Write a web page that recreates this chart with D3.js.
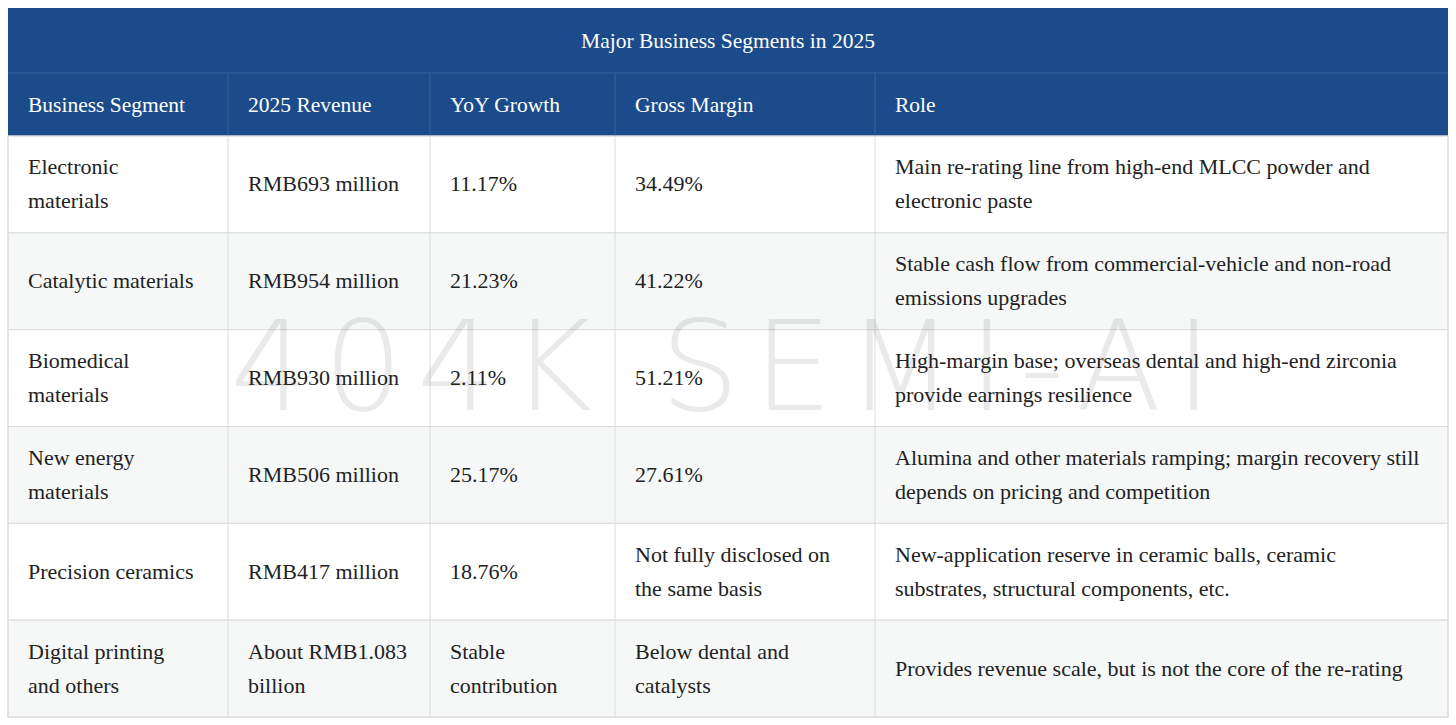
<!DOCTYPE html>
<html><head><meta charset="utf-8">
<script src="https://cdn.jsdelivr.net/npm/d3@7"></script>
<style>body{margin:0;background:#fff}</style>
</head><body><div id="chart"></div>
<script>
var title = "Major Business Segments in 2025"
var headers = ["Business Segment", "2025 Revenue", "YoY Growth", "Gross Margin", "Role"]
var segments = [["Electronic", "materials"], ["Catalytic materials"], ["Biomedical", "materials"], ["New energy", "materials"], ["Precision ceramics"], ["Digital printing", "and others"]]
var revenue = [["RMB693 million"], ["RMB954 million"], ["RMB930 million"], ["RMB506 million"], ["RMB417 million"], ["About RMB1.083", "billion"]]
var growth = [["11.17%"], ["21.23%"], ["2.11%"], ["25.17%"], ["18.76%"], ["Stable", "contribution"]]
var margin = [["34.49%"], ["41.22%"], ["51.21%"], ["27.61%"], ["Not fully disclosed on", "the same basis"], ["Below dental and", "catalysts"]]
var roles = [["Main re-rating line from high-end MLCC powder and", "electronic paste"],
    ["Stable cash flow from commercial-vehicle and non-road", "emissions upgrades"],
    ["High-margin base; overseas dental and high-end zirconia", "provide earnings resilience"],
    ["Alumina and other materials ramping; margin recovery still", "depends on pricing and competition"],
    ["New-application reserve in ceramic balls, ceramic", "substrates, structural components, etc."],
    ["Provides revenue scale, but is not the core of the re-rating"]]
var colEdges = [8, 228, 430, 615, 875, 1448]

var width = 1456, height = 725
var font = "'Liberation Serif', serif"
var svg = d3.select("#chart").append("svg").attr("width", width).attr("height", height)

var cols = [segments, revenue, growth, margin, roles]
var y = d3.scaleBand().domain(d3.range(segments.length)).range([136, 717])

// title band + header
svg.append("rect").attr("x", 8).attr("y", 8).attr("width", 1440).attr("height", 128).attr("fill", "#1b4b8a")
svg.append("line").attr("x1", 8).attr("x2", 1448).attr("y1", 73).attr("y2", 73).attr("stroke", "#3a649c")
svg.append("text").attr("x", 728).attr("y", 48).attr("text-anchor", "middle")
   .attr("fill", "#fff").attr("font-family", font).attr("font-size", 21.5).text(title)

// rows
svg.selectAll(".row").data(segments).enter().append("rect")
   .attr("x", 8).attr("width", 1440)
   .attr("y", (d, i) => y(i)).attr("height", y.bandwidth())
   .attr("fill", (d, i) => i % 2 ? "#f6f8f8" : "#fff")
   .attr("stroke", "#dcdcdc")

colEdges.slice(1, -1).forEach(x => {
    svg.append("line").attr("x1", x).attr("x2", x).attr("y1", 73).attr("y2", 136).attr("stroke", "#3a649c")
    svg.append("line").attr("x1", x).attr("x2", x).attr("y1", 136).attr("y2", 717).attr("stroke", "#dcdcdc")
})
svg.append("rect").attr("x", 8).attr("y", 136).attr("width", 1440).attr("height", 581)
   .attr("fill", "none").attr("stroke", "#dcdcdc")

// watermark
svg.append("text").attr("x", 728).attr("y", 410).attr("text-anchor", "middle")
   .attr("font-family", "'DejaVu Sans', sans-serif").attr("font-weight", 200).attr("font-size", 125)
   .attr("letter-spacing", 14).attr("fill", "#000").attr("opacity", 0.08).text("404K SEMI-AI")

headers.forEach((h, c) => {
    svg.append("text").attr("x", colEdges[c] + 20).attr("y", 112)
       .attr("fill", "#fff").attr("font-family", font).attr("font-size", 21.5).text(h)
})

cols.forEach((col, c) => {
    col.forEach((lines, r) => {
        var cy = y(r) + y.bandwidth() / 2
        var t = svg.append("text").attr("font-family", font).attr("font-size", 22).attr("fill", "#222")
        lines.forEach((ln, k) => {
            t.append("tspan").attr("x", colEdges[c] + 20)
             .attr("y", cy + 7 + (k - (lines.length - 1) / 2) * 34).text(ln)
        })
    })
})
</script></body></html>
